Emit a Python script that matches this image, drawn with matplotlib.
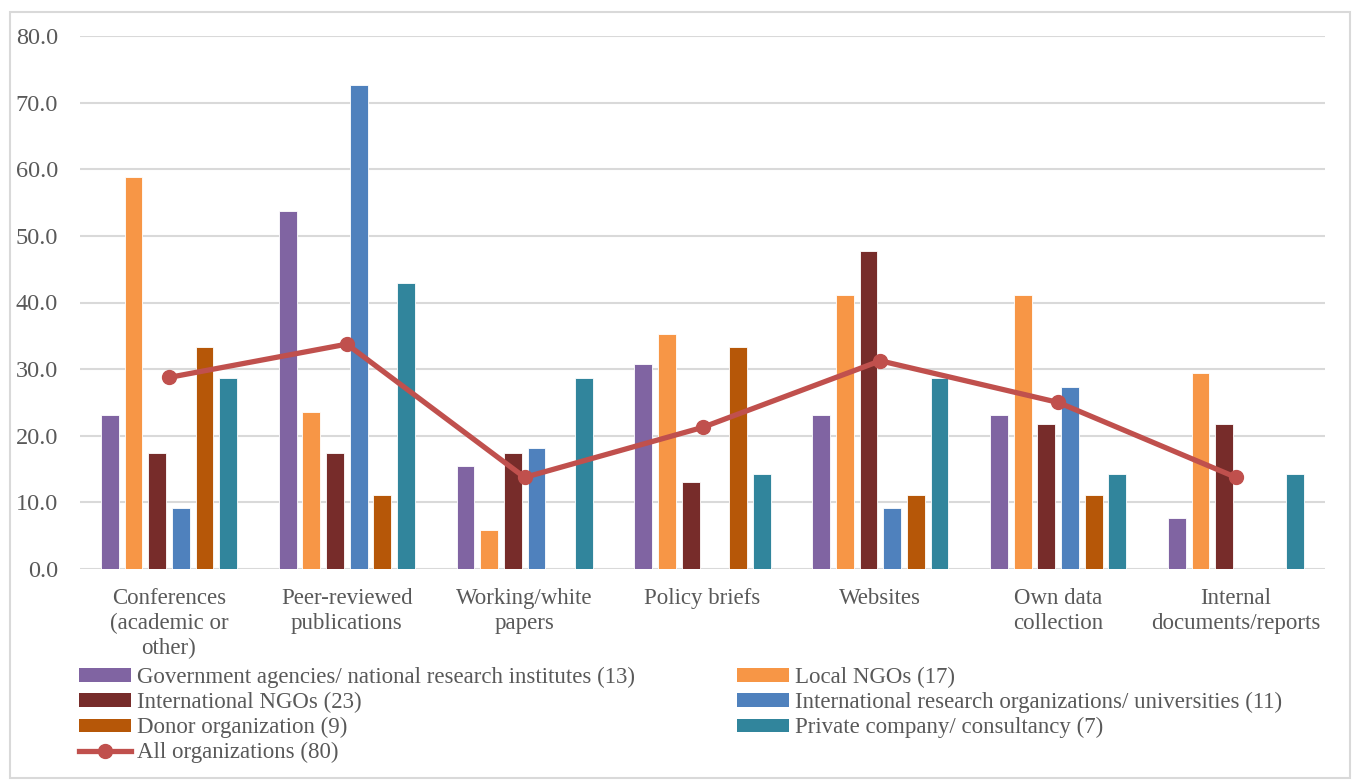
import matplotlib
matplotlib.use("Agg")
import matplotlib.pyplot as plt
import numpy as np
from matplotlib.patches import Rectangle
from matplotlib.lines import Line2D

categories = ["Conferences\n(academic or\nother)", "Peer-reviewed\npublications",
              "Working/white\npapers", "Policy briefs", "Websites",
              "Own data\ncollection", "Internal\ndocuments/reports"]
gov = [23.1, 53.8, 15.4, 30.8, 23.1, 23.1, 7.7]
local_ngo = [58.8, 23.5, 5.9, 35.3, 41.2, 41.2, 29.4]
intl_ngo = [17.4, 17.4, 17.4, 13.0, 47.8, 21.7, 21.7]
intl_res = [9.1, 72.7, 18.2, 0.0, 9.1, 27.3, 0.0]
donor = [33.3, 11.1, 0.0, 33.3, 11.1, 11.1, 0.0]
private = [28.6, 42.9, 28.6, 14.3, 28.6, 14.3, 14.3]
all_orgs = [28.75, 33.75, 13.75, 21.25, 31.25, 25.0, 13.75]

series_names = ["Government agencies/ national research institutes (13)",
                "Local NGOs (17)", "International NGOs (23)",
                "International research organizations/ universities (11)",
                "Donor organization (9)", "Private company/ consultancy (7)"]
line_name = "All organizations (80)"
yticks = [0, 10, 20, 30, 40, 50, 60, 70, 80]

colors = ["#8064A2", "#F79646", "#772C2A", "#4F81BD", "#B65708", "#31859C"]
line_color = "#C0504D"
text_color = "#595959"

plt.rcParams['font.family'] = ['Liberation Serif', 'DejaVu Serif']

fig = plt.figure(figsize=(13.52, 7.80), dpi=100)
fig.patches.append(Rectangle((10/1352, 2/780), 1340/1352, (766)/780, transform=fig.transFigure,
                             fill=False, edgecolor="#D9D9D9", linewidth=1.5))
ax = fig.add_axes([80/1352, 1-569/780, 1245/1352, (569-36)/780])

series = [gov, local_ngo, intl_ngo, intl_res, donor, private]
x = np.arange(len(categories))
step = 0.133
width = 0.10
for i, (vals, c) in enumerate(zip(series, colors)):
    ax.bar(x + (i - 2.5) * step, vals, width=width, color=c, edgecolor="white",
           linewidth=0.6, zorder=2)
ax.plot(x, all_orgs, color=line_color, linewidth=3.8, marker="o", markersize=10, zorder=3)

ax.set_xlim(-0.5, len(categories) - 0.5)
ax.set_ylim(0, 80)
ax.set_yticks(yticks)
ax.set_yticklabels([f"{v:.1f}" for v in yticks])
ax.yaxis.grid(True, color="#D9D9D9", linewidth=1.5, zorder=0)
ax.set_axisbelow(True)
for s in ax.spines.values():
    s.set_visible(False)
ax.set_xticks(x)
ax.set_xticklabels(categories, linespacing=1.24)
ax.tick_params(axis="y", length=0, pad=15.8, labelsize=17.5, labelcolor=text_color)
ax.tick_params(axis="x", length=0, pad=13.5, labelsize=16.5, labelcolor=text_color)
for lab in ax.get_yticklabels():
    lab.set_horizontalalignment("right")

bar_handles = [Rectangle((0, 0), 1, 1, facecolor=c, edgecolor="none") for c in colors]
line_handle = Line2D([], [], color=line_color, linewidth=3.8, marker="o", markersize=10)

h1 = [bar_handles[0], bar_handles[2], bar_handles[4], line_handle]
l1 = [series_names[0], series_names[2], series_names[4], line_name]
h2 = [bar_handles[1], bar_handles[3], bar_handles[5]]
l2 = [series_names[1], series_names[3], series_names[5]]

kw = dict(frameon=False, fontsize=16.5, labelcolor=text_color, handlelength=2.27,
          handleheight=0.52, handletextpad=0.26, labelspacing=0.17, borderaxespad=0, borderpad=0)
leg1 = fig.legend(h1, l1, loc="upper left", bbox_to_anchor=(79/1352, 1-667/780), **kw)
leg2 = fig.legend(h2, l2, loc="upper left", bbox_to_anchor=(737/1352, 1-667/780), **kw)

fig.savefig("out.png", dpi=100)
